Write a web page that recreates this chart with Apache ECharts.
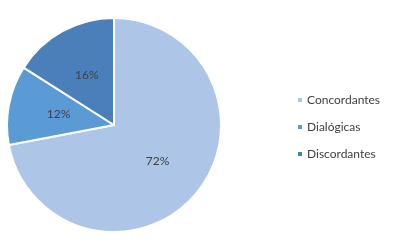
<!DOCTYPE html>
<html><head><meta charset="utf-8">
<script src="https://cdn.jsdelivr.net/npm/echarts@6/dist/echarts.min.js"></script>
<style>html,body{margin:0;padding:0;background:#fff}#c{width:393px;height:249px}</style>
</head><body><div id="c"></div>
<script>
const categories = ["Concordantes", "Dialógicas", "Discordantes"];
const values = [72, 12, 16];
const colors = ["#adc5e6", "#5b9bd5", "#4a7fba"];

const chart = echarts.init(document.getElementById('c'), null, {renderer: 'canvas'});
chart.setOption({
  animation: false,
  legend: {
    orient: 'vertical',
    left: 291,
    top: 89,
    itemWidth: 6,
    itemHeight: 6,
    itemGap: 15,
    icon: 'rect',
    data: categories,
    textStyle: {fontFamily: 'Lato', fontSize: 12, color: '#404040', padding: [0,0,0,-1]}
  },
  series: [{
    type: 'pie',
    center: [114, 125],
    radius: [0, 107],
    startAngle: 90,
    clockwise: true,
    data: categories.map((c, i) => ({name: c, value: values[i], itemStyle: {color: colors[i]}})),
    itemStyle: {borderColor: '#fff', borderWidth: 2},
    label: {show: true, position: 'inside', formatter: '{c}%', fontFamily: 'Lato', fontSize: 12, color: '#404040'},
    labelLine: {show: false},
    emphasis: {disabled: true}
  }]
});
</script></body></html>
